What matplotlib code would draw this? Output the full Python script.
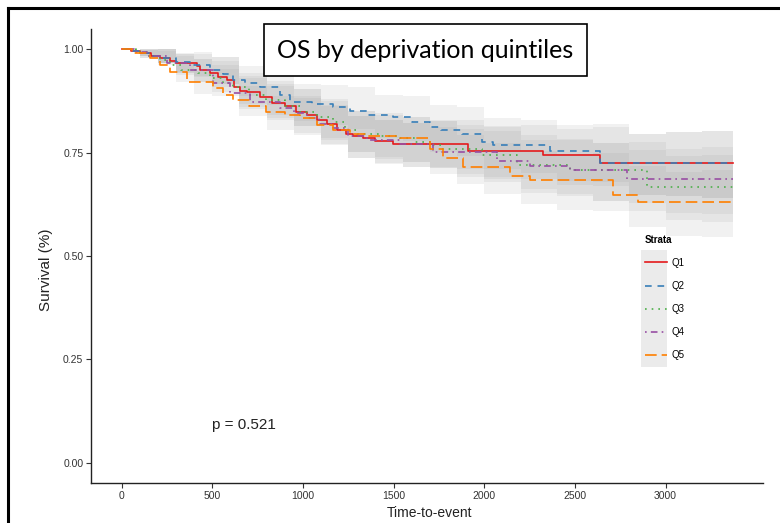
import matplotlib
matplotlib.use("Agg")
import matplotlib.pyplot as plt
from matplotlib.lines import Line2D
from matplotlib.patches import Rectangle

plt.rcParams['font.family'] = ['Liberation Sans', 'DejaVu Sans']

# Kaplan-Meier steps (time, survival)
q1_t = [0, 50, 100, 160, 210, 266, 300, 415, 432, 488, 532, 580, 620, 653, 690, 762, 830, 900,
        960, 1020, 1080, 1132, 1190, 1240, 1277, 1330, 1400, 1497, 1909, 2324, 2638, 3370]
q1_s = [1.0, 0.995, 0.99, 0.985, 0.978, 0.973, 0.966, 0.96, 0.95, 0.942, 0.933, 0.925, 0.909, 0.90,
        0.897, 0.885, 0.87, 0.862, 0.848, 0.84, 0.83, 0.82, 0.805, 0.795, 0.79, 0.785, 0.778, 0.772,
        0.755, 0.744, 0.726, 0.726]

q2_t = [0, 60, 120, 170, 230, 300, 380, 487, 560, 614, 680, 762, 873, 929, 1050, 1167, 1260, 1352,
        1497, 1600, 1700, 1760, 1877, 1987, 2048, 2362, 2638, 3370]
q2_s = [1.0, 0.995, 0.99, 0.985, 0.979, 0.97, 0.962, 0.95, 0.94, 0.925, 0.918, 0.908, 0.889, 0.873,
        0.868, 0.861, 0.85, 0.84, 0.836, 0.825, 0.812, 0.804, 0.796, 0.776, 0.768, 0.753, 0.726, 0.726]

q3_t = [0, 80, 150, 210, 266, 330, 420, 487, 560, 614, 700, 799, 900, 983, 1080, 1167, 1230, 1300,
        1420, 1535, 1620, 1719, 1760, 1987, 2180, 2472, 2897, 3370]
q3_s = [1.0, 0.993, 0.985, 0.975, 0.962, 0.95, 0.943, 0.93, 0.918, 0.908, 0.89, 0.877, 0.862, 0.849,
        0.836, 0.824, 0.804, 0.795, 0.79, 0.785, 0.775, 0.768, 0.76, 0.744, 0.72, 0.707, 0.668, 0.668]

q4_t = [0, 70, 140, 250, 380, 504, 600, 708, 873, 950, 1020, 1090, 1167, 1250, 1352, 1535, 1719,
        2070, 2252, 2472, 2788, 3370]
q4_s = [1.0, 0.993, 0.985, 0.967, 0.95, 0.918, 0.895, 0.873, 0.858, 0.845, 0.833, 0.82, 0.809, 0.79,
        0.78, 0.772, 0.752, 0.731, 0.717, 0.707, 0.686, 0.686]

q5_t = [0, 60, 157, 210, 266, 359, 504, 560, 614, 700, 799, 900, 983, 1080, 1167, 1260, 1352, 1535,
        1700, 1773, 1883, 2141, 2252, 2709, 2847, 3370]
q5_s = [1.0, 0.99, 0.979, 0.962, 0.946, 0.921, 0.906, 0.89, 0.877, 0.862, 0.849, 0.84, 0.833, 0.818,
        0.804, 0.795, 0.79, 0.785, 0.758, 0.736, 0.715, 0.693, 0.683, 0.648, 0.63, 0.63]

# confidence bands (upper / lower), read at these times
ci_t = [0, 100, 200, 300, 400, 500, 650, 800, 950, 1100, 1250, 1400, 1550, 1700, 1850, 2000,
        2200, 2400, 2600, 2800, 3000, 3200, 3370]
q1_hi = [1.0, 0.999, 1.0, 0.988, 0.993, 0.973, 0.935, 0.924, 0.904, 0.875, 0.838, 0.828, 0.823,
         0.826, 0.828, 0.814, 0.816, 0.808, 0.811, 0.796, 0.80, 0.803, 0.803]
q1_lo = [1.0, 0.98, 0.967, 0.942, 0.936, 0.908, 0.861, 0.842, 0.815, 0.78, 0.737, 0.723, 0.715,
         0.712, 0.71, 0.69, 0.687, 0.673, 0.67, 0.648, 0.644, 0.641, 0.641]
q2_hi = [1.0, 1.0, 1.0, 0.992, 0.989, 0.981, 0.96, 0.947, 0.915, 0.913, 0.909, 0.89, 0.887,
         0.866, 0.86, 0.835, 0.829, 0.817, 0.82, 0.796, 0.80, 0.803, 0.803]
q2_lo = [1.0, 0.985, 0.967, 0.946, 0.932, 0.916, 0.886, 0.865, 0.826, 0.818, 0.808, 0.785, 0.779,
         0.752, 0.742, 0.711, 0.70, 0.682, 0.679, 0.648, 0.644, 0.641, 0.641]
q3_hi = [1.0, 1.0, 1.0, 0.984, 0.977, 0.961, 0.943, 0.916, 0.904, 0.881, 0.852, 0.845, 0.836,
         0.829, 0.816, 0.803, 0.781, 0.784, 0.774, 0.777, 0.742, 0.745, 0.745]
q3_lo = [1.0, 0.983, 0.967, 0.938, 0.92, 0.896, 0.869, 0.834, 0.815, 0.786, 0.751, 0.74, 0.728,
         0.715, 0.698, 0.679, 0.652, 0.649, 0.633, 0.629, 0.586, 0.583, 0.583]
q4_hi = [1.0, 1.0, 1.0, 0.989, 0.977, 0.981, 0.93, 0.912, 0.887, 0.865, 0.838, 0.83, 0.823,
         0.826, 0.808, 0.811, 0.792, 0.781, 0.774, 0.756, 0.76, 0.763, 0.763]
q4_lo = [1.0, 0.983, 0.967, 0.943, 0.92, 0.916, 0.856, 0.83, 0.798, 0.77, 0.737, 0.725, 0.715,
         0.712, 0.69, 0.687, 0.663, 0.646, 0.633, 0.608, 0.604, 0.601, 0.601]
q5_hi = [1.0, 0.999, 0.995, 0.968, 0.948, 0.952, 0.912, 0.888, 0.882, 0.863, 0.852, 0.84, 0.836,
         0.812, 0.792, 0.774, 0.754, 0.747, 0.75, 0.718, 0.704, 0.707, 0.707]
q5_lo = [1.0, 0.98, 0.961, 0.922, 0.891, 0.887, 0.838, 0.806, 0.793, 0.768, 0.751, 0.735, 0.728,
         0.698, 0.674, 0.65, 0.625, 0.612, 0.609, 0.57, 0.548, 0.545, 0.545]

labels = ['Q1', 'Q2', 'Q3', 'Q4', 'Q5']
colors = ['#E41A1C', '#377EB8', '#4DAF4A', '#984EA3', '#FF7F00']
styles = ['-', (0, (4, 3.5)), (0, (1, 3)), (0, (1, 2.5, 4, 2.5)), (0, (7, 3))]
xticks = [0, 500, 1000, 1500, 2000, 2500, 3000]
yticks = [0.0, 0.25, 0.5, 0.75, 1.0]

W, H = 780, 523
fig = plt.figure(figsize=(W / 100, H / 100), dpi=100)
ax = fig.add_axes([91 / W, 1 - 483.3 / H, (763.3 - 91) / W, (483.3 - 28.7) / H])

bands = [(q1_lo, q1_hi), (q2_lo, q2_hi), (q3_lo, q3_hi), (q4_lo, q4_hi), (q5_lo, q5_hi)]
for lo, hi in bands:
    ax.fill_between(ci_t, lo, hi, step='post', color='#999999', alpha=0.13, lw=0)

curves = [(q1_t, q1_s), (q2_t, q2_s), (q3_t, q3_s), (q4_t, q4_s), (q5_t, q5_s)]
for (t, s), lab, c, ls in zip(curves, labels, colors, styles):
    ax.plot(t, s, drawstyle='steps-post', color=c, ls=ls, lw=1.2, label=lab)

ax.set_xlim(-168.5, 3538.5)
ax.set_ylim(-0.05, 1.05)
ax.set_xticks(xticks)
ax.set_yticks(yticks)
ax.set_yticklabels(['%.2f' % v for v in yticks])
ax.tick_params(labelsize=7.5, colors='#333333', length=3.5, width=0.8, pad=2)
for side in ['top', 'right']:
    ax.spines[side].set_visible(False)
for side in ['left', 'bottom']:
    ax.spines[side].set_linewidth(1.0)
    ax.spines[side].set_color('#222222')

ax.set_xlabel('Time-to-event', fontsize=10, color='#222222')
ax.set_ylabel('Survival (%)', fontsize=11, color='#222222')
ax.xaxis.set_label_coords(0.504, -0.05)
ax.yaxis.set_label_coords(-0.0565, 0.469)

ax.text(496, 0.091, 'p = 0.521', fontsize=11, ha='left', va='center', color='#222222')

# legend with grey key background
ax.add_patch(Rectangle((640.7 / W, 1 - 366.7 / H), 26.3 / W, 116.7 / H,
                       transform=fig.transFigure, facecolor='#ebebeb', edgecolor='none',
                       clip_on=False, zorder=4))
leg = ax.legend(loc='upper left', bbox_to_anchor=(636 / W, 1 - 226 / H),
                bbox_transform=fig.transFigure, frameon=False, fontsize=7,
                title='Strata', title_fontproperties={'weight': 'bold', 'size': 7},
                handlelength=2.3, handletextpad=0.5, labelspacing=1.35, alignment='left')
leg.set_zorder(5)

# title box
fig.add_artist(Rectangle((264 / W, 1 - 76 / H), 323 / W, 52 / H, transform=fig.transFigure,
                         facecolor='white', edgecolor='black', lw=1.2, zorder=3))
fig.text(425.5 / W, 1 - 50 / H, 'OS by deprivation quintiles', fontsize=18,
         family=['Lato', 'DejaVu Sans'], ha='center', va='center', zorder=4)

# slide frame
fig.add_artist(Line2D([8 / W, 1], [1 - 8 / H, 1 - 8 / H], transform=fig.transFigure,
                      color='black', lw=2.2))
fig.add_artist(Line2D([8 / W, 8 / W], [0, 1 - 8 / H], transform=fig.transFigure,
                      color='black', lw=2.2))

fig.savefig('out.png', dpi=100)
